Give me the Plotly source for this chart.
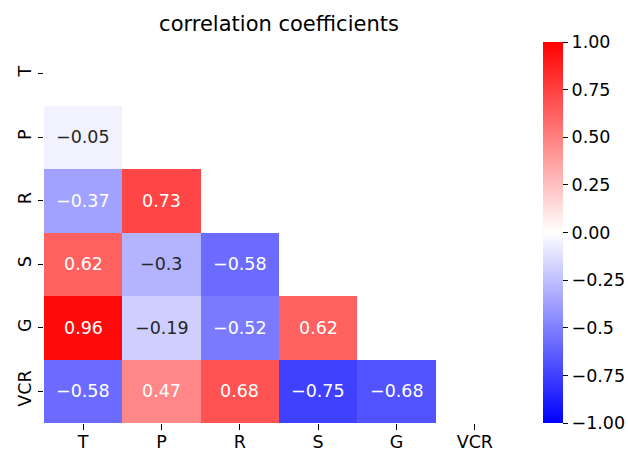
import plotly.graph_objects as go

labels = ["T", "P", "R", "S", "G", "VCR"]
corr = [
    [None, None, None, None, None, None],
    [-0.05, None, None, None, None, None],
    [-0.37, 0.73, None, None, None, None],
    [0.62, -0.3, -0.58, None, None, None],
    [0.96, -0.19, -0.52, 0.62, None, None],
    [-0.58, 0.47, 0.68, -0.75, -0.68, None],
]
cb_vals = [1.0, 0.75, 0.5, 0.25, 0.0, -0.25, -0.5, -0.75, -1.0]
cb_text = ["1.00", "0.75", "0.50", "0.25", "0.00", "\u22120.25", "\u22120.5", "\u22120.75", "\u22121.00"]

n = len(labels)
idx = list(range(n))
FS = 17.5

L, R, T, B = 44, 514, 41.5, 422.7
W, H = 628, 450

fig = go.Figure()
fig.add_trace(go.Heatmap(
    z=corr, x=idx, y=idx,
    zmin=-1, zmax=1,
    colorscale=[[0, "rgb(0,0,255)"], [0.5, "rgb(255,255,255)"], [1, "rgb(255,0,0)"]],
    hoverongaps=False,
    xgap=0, ygap=0,
    colorbar=dict(
        x=(542.7 - L) / (R - L), xanchor="left", xref="paper",
        y=0.5, yanchor="middle", len=1.0, lenmode="fraction",
        thickness=20, thicknessmode="pixels",
        outlinewidth=0, xpad=0, ypad=0,
        tickmode="array", tickvals=cb_vals, ticktext=cb_text,
        ticks="outside", ticklen=5.5, tickwidth=1, tickcolor="black",
        tickfont=dict(family="DejaVu Sans", size=FS, color="black"),
    ),
))

for i in range(n):
    for j in range(n):
        v = corr[i][j]
        if v is None:
            continue
        s = f"{v:g}".replace("-", "\u2212")
        col = "#262626" if abs(v) < 0.35 else "white"
        fig.add_annotation(x=j, y=i, xref="x", yref="y", text=s, showarrow=False,
                           font=dict(family="DejaVu Sans", size=FS, color=col))

axis_common = dict(showgrid=False, zeroline=False, showline=False,
                   ticks="outside", ticklen=5.5, tickwidth=1, tickcolor="black",
                   tickfont=dict(size=FS, family="DejaVu Sans", color="black"),
                   tickmode="array", tickvals=idx, ticktext=labels)

fig.update_layout(
    width=W, height=H,
    margin=dict(l=L, r=W - R, t=T, b=H - B, autoexpand=False),
    paper_bgcolor="white", plot_bgcolor="white",
    title=dict(text="correlation coefficients", x=(L + R) / 2 / W, xanchor="center",
               y=1 - 24 / H, yanchor="middle",
               font=dict(family="DejaVu Sans", size=21, color="black")),
    font=dict(family="DejaVu Sans", color="black"),
    xaxis=dict(range=[-0.5, n - 0.5], ticklabelstandoff=-3, **axis_common),
    yaxis=dict(range=[n - 0.5, -0.5], tickangle=-90, **axis_common),
)

fig.write_html("out.html")
